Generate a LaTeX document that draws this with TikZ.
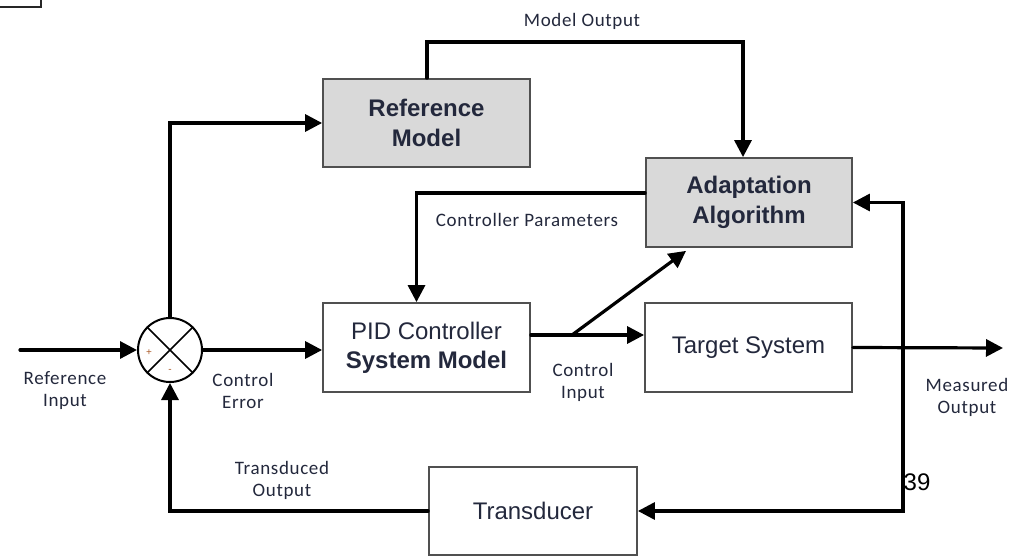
\documentclass[tikz,border=0pt]{standalone}
\usepackage{fontspec}
\setmainfont{Liberation Sans}
\newfontfamily\lblfont[LetterSpace=3.5]{Carlito}
\usetikzlibrary{arrows.meta}
\definecolor{txt}{RGB}{35,40,60}
\definecolor{boxgray}{RGB}{217,217,217}
\definecolor{edgegray}{RGB}{80,80,80}
\definecolor{signcol}{RGB}{170,90,40}
\tikzset{
  blk/.style={draw=edgegray, line width=1.8pt, rectangle, inner sep=0pt, align=center,
     text=txt, font=\fontsize{24}{29}\selectfont},
  shaded/.style={blk, fill=boxgray, font=\fontsize{24}{30}\selectfont\bfseries},
  conn/.style={line width=3.2pt, line cap=round, line join=miter},
  arr/.style={conn, -{Triangle[length=17pt,width=17pt]}},
  lbl/.style={text=txt, align=center, font=\lblfont\fontsize{19}{22}\selectfont},
}
\begin{document}
\begin{tikzpicture}[x=1pt,y=-1pt]
\useasboundingbox (0,0) rectangle (1025,556);
% corner fragment top-left
\draw[line width=2.2pt, draw=black!85] (0,7) -- (41,7) -- (41,0);

\node[shaded, minimum width=207pt, minimum height=88pt] (refmodel) at (426.5,123) {Reference\\Model};
\node[shaded, minimum width=206pt, minimum height=89pt] (adapt) at (749,202.5) {Adaptation\\Algorithm};
\node[blk, minimum width=207pt, minimum height=89pt] (pid) at (426.5,347.5) {PID Controller\\\textbf{System Model}};
\node[blk, minimum width=207pt, minimum height=89pt] (tsys) at (748.5,347.5) {Target System};
\node[blk, minimum width=208pt, minimum height=88pt] (trans) at (533,511) {Transducer};
\node[draw, circle, line width=2pt, minimum size=64pt, inner sep=0pt] (sum) at (170,350) {};
\draw[line width=1.6pt] (sum.north west) -- (sum.south east) (sum.north east) -- (sum.south west);
\node[text=signcol, font=\fontsize{10}{10}\selectfont] (plus) at (149,353) {+};
\node[text=signcol, font=\fontsize{10}{10}\selectfont] (minus) at (170,371) {-};

\coordinate (refin) at (20,350);
\coordinate (top) at (427,42);
\coordinate (branch) at (572,335);
\coordinate (measout) at (1003,348);
\coordinate (tap) at (903,348);

\draw[arr] (refin) -- (sum.west);
\draw[arr] (sum.north) |- (refmodel.west);
\draw[arr] (refmodel.north -| top) -- (top) -| ([xshift=-6pt]adapt.north);
\draw[arr] ([yshift=9.5pt]adapt.west) -| ([xshift=-10pt]pid.north);
\draw[arr] (sum.east) -- (sum.east -| pid.west);
\draw[arr] ([yshift=12.5pt]pid.east) -- ([yshift=12.5pt]pid.east -| tsys.west);
\draw[arr] (branch) -- ([xshift=-63pt,yshift=-3pt]adapt.south);
\draw[arr] (tsys.east) -- (measout);
\draw[arr] (tap) |- (adapt.east);
\draw[arr] (tap) |- (trans.east);
\draw[arr] (trans.west) -| (sum.south);

\node[lbl] (lmo) at (582,21) {Model Output};
\node[lbl] (lcp) at (527,220) {Controller Parameters};
\node[lbl] (lri) at (65,391) {Reference\\Input};
\node[lbl] (lce) at (243,391) {Control\\Error};
\node[lbl] (lci) at (583,382) {Control\\Input};
\node[lbl] (lmeas) at (967,397) {Measured\\Output};
\node[lbl] (ltr) at (282,480) {Transduced\\Output};
\node[font=\fontsize{24}{24}\selectfont] (pg) at (917,482) {39};
\end{tikzpicture}
\end{document}
